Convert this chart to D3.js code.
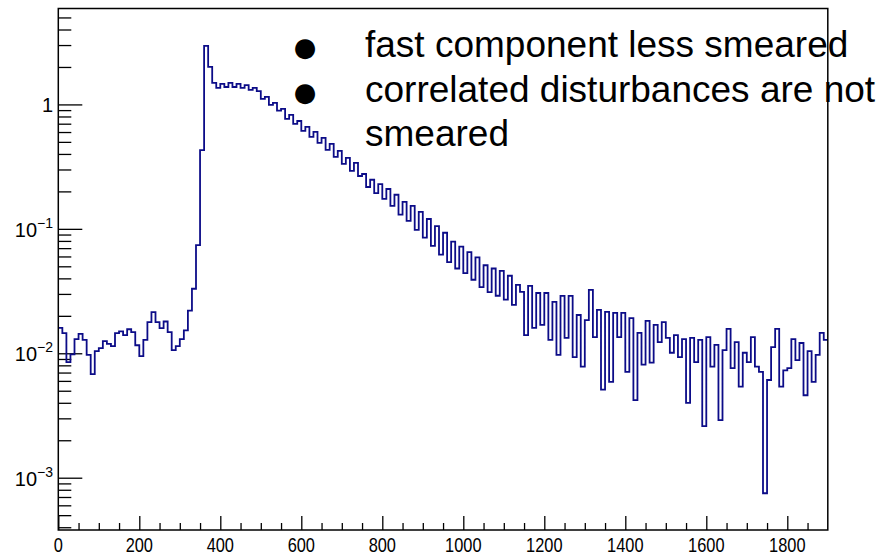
<!DOCTYPE html>
<html>
<head>
<meta charset="utf-8">
<script src="https://cdn.jsdelivr.net/npm/d3@7/dist/d3.min.js"></script>
<style>
  body { margin: 0; background: #fff; }
  text { font-family: "Liberation Sans", Arial, Helvetica, sans-serif; }
</style>
</head>
<body>
<script>
// histogram: 190 bins of width 10 from 0 to 1900
var binWidth = 10;
var counts = [
  0.016, 0.0145, 0.0085, 0.0098, 0.013, 0.0143, 0.0128, 0.0097, 0.0068, 0.0104,
  0.011, 0.0125, 0.0119, 0.0114, 0.0145, 0.015, 0.014, 0.0156, 0.0148, 0.0116,
  0.0095, 0.0128, 0.0178, 0.0214, 0.0178, 0.0159, 0.018, 0.0148, 0.0106, 0.0114,
  0.013, 0.0153, 0.022, 0.033, 0.074, 0.43, 2.95, 2.0, 1.49, 1.36,
  1.46, 1.38, 1.49, 1.38, 1.46, 1.36, 1.43, 1.31, 1.36, 1.28,
  1.11, 1.15, 0.99, 1.03, 0.89, 0.92, 0.765, 0.823, 0.697, 0.736,
  0.612, 0.659, 0.548, 0.601, 0.49, 0.538, 0.431, 0.482, 0.379, 0.423,
  0.333, 0.372, 0.292, 0.339, 0.266, 0.276, 0.217, 0.248, 0.194, 0.229,
  0.174, 0.209, 0.153, 0.188, 0.13, 0.165, 0.116, 0.153, 0.098, 0.137,
  0.085, 0.12, 0.073, 0.105, 0.062, 0.093, 0.054, 0.079, 0.048, 0.072,
  0.044, 0.065, 0.039, 0.059, 0.034, 0.051, 0.031, 0.048, 0.029, 0.046,
  0.027, 0.042, 0.0245, 0.0354, 0.0311, 0.014, 0.0348, 0.016, 0.0305, 0.0169,
  0.0305, 0.0128, 0.0259, 0.0097, 0.0289, 0.0133, 0.0289, 0.0093, 0.0203, 0.0078,
  0.0185, 0.0323, 0.0135, 0.0223, 0.0051, 0.0215, 0.0059, 0.0211, 0.0135, 0.0211,
  0.0071, 0.0192, 0.0042, 0.0146, 0.0081, 0.0182, 0.0084, 0.0169, 0.0123, 0.0178,
  0.0133, 0.0101, 0.014, 0.0093, 0.013, 0.004, 0.0133, 0.0085, 0.0128, 0.0026,
  0.0135, 0.0078, 0.0117, 0.0029, 0.0106, 0.0157, 0.0076, 0.0123, 0.0054, 0.0101,
  0.0085, 0.0135, 0.0078, 0.0071, 0.00075, 0.0061, 0.0112, 0.0157, 0.0054, 0.0073,
  0.0076, 0.013, 0.0088, 0.0121, 0.0046, 0.0104, 0.0059, 0.0097, 0.0146, 0.0128
];

var xMajorTicks = [0, 200, 400, 600, 800, 1000, 1200, 1400, 1600, 1800];
var yMajorTicks = [1e-3, 1e-2, 1e-1, 1];
var yTickBase = ["10", "10", "10", "1"];
var yTickExp = ["\u22123", "\u22122", "\u22121", ""];
var noteLines = ["fast component less smeared", "correlated disturbances are not", "smeared"];

var W = 885, H = 557;
var frame = {left: 58.3, right: 827.8, top: 8.5, bottom: 530};

var svg = d3.select("body").append("svg")
    .attr("width", W)
    .attr("height", H);

var x = d3.scaleLinear()
    .domain([0, 1900])
    .range([frame.left, frame.right]);

var y = d3.scaleLog()
    .domain([3.8e-4, 5.9])
    .range([frame.bottom, frame.top]);

// minor ticks
var xMinor = d3.range(0, 1900, 50).filter(function(d) { return d % 200 != 0; });
var yMinor = [];
[1e-4, 1e-3, 1e-2, 1e-1, 1].forEach(function(dec) {
  for (var k = 2; k <= 9; k++) {
    var v = dec * k;
    if (v >= 3.8e-4 && v <= 5.9) yMinor.push(v);
  }
});

var xAxis = svg.append("g")
    .attr("transform", "translate(0," + frame.bottom + ")");
xAxis.call(d3.axisBottom(x).tickValues(xMajorTicks).tickSize(-14).tickFormat(""));
xAxis.append("g").call(d3.axisBottom(x).tickValues(xMinor).tickSize(-7).tickFormat(""));
xAxis.selectAll(".domain").remove();
xAxis.selectAll("line").attr("stroke", "#000").attr("stroke-width", 1.3);

var yAxis = svg.append("g")
    .attr("transform", "translate(" + frame.left + ",0)");
yAxis.call(d3.axisLeft(y).tickValues(yMajorTicks).tickSize(-24).tickFormat(""));
yAxis.append("g").call(d3.axisLeft(y).tickValues(yMinor).tickSize(-13).tickFormat(""));
yAxis.selectAll(".domain").remove();
yAxis.selectAll("line").attr("stroke", "#000").attr("stroke-width", 1.3);

// x tick labels (narrow helvetica look)
svg.append("g").selectAll("text")
    .data(xMajorTicks)
    .enter()
    .append("text")
      .attr("transform", function(d) { return "translate(" + x(d) + ",552) scale(0.82,1)"; })
      .attr("text-anchor", "middle")
      .style("font-size", "20px")
      .attr("fill", "#000")
      .text(function(d) { return d; });

// y tick labels with superscript exponents
var yl = svg.append("g").selectAll("text")
    .data(yMajorTicks)
    .enter()
    .append("text")
      .attr("x", 53)
      .attr("y", function(d) { return y(d) + 8; })
      .attr("text-anchor", "end")
      .style("font-size", "20px")
      .attr("fill", "#000");
yl.append("tspan")
    .text(function(d, i) { return yTickBase[i]; });
yl.append("tspan")
    .attr("dy", -9)
    .style("font-size", "14px")
    .text(function(d, i) { return yTickExp[i]; });

// histogram as a step outline
var pts = counts.map(function(c, i) { return [i * binWidth, c]; });
pts.push([counts.length * binWidth, counts[counts.length - 1]]);

svg.append("clipPath").attr("id", "plotclip")
  .append("rect")
    .attr("x", frame.left)
    .attr("y", frame.top)
    .attr("width", frame.right - frame.left)
    .attr("height", frame.bottom - frame.top);

var line = d3.line()
    .x(function(d) { return x(d[0]); })
    .y(function(d) { return y(d[1]); })
    .curve(d3.curveStepAfter);

svg.append("path")
    .datum(pts)
    .attr("clip-path", "url(#plotclip)")
    .attr("d", line)
    .attr("fill", "none")
    .attr("stroke", "#0c0c88")
    .attr("stroke-width", 1.8);

// frame
svg.append("rect")
    .attr("x", frame.left)
    .attr("y", frame.top)
    .attr("width", frame.right - frame.left)
    .attr("height", frame.bottom - frame.top)
    .attr("fill", "none")
    .attr("stroke", "#000")
    .attr("stroke-width", 1.5);

// slide text on top of the plot
var notes = svg.append("g");
[0, 1].forEach(function(i) {
  notes.append("text")
      .attr("x", 305)
      .attr("y", 56 + i * 44.5)
      .attr("text-anchor", "middle")
      .style("font-family", "DejaVu Sans")
      .style("font-size", "26px")
      .text("\u25CF");
});
notes.selectAll("text.note")
    .data(noteLines)
    .enter()
    .append("text")
      .classed("note", true)
      .attr("x", 365)
      .attr("y", function(d, i) { return 57 + i * 44.5; })
      .style("font-size", "37px")
      .attr("fill", "#000")
      .text(function(d) { return d; });
</script>
</body>
</html>
